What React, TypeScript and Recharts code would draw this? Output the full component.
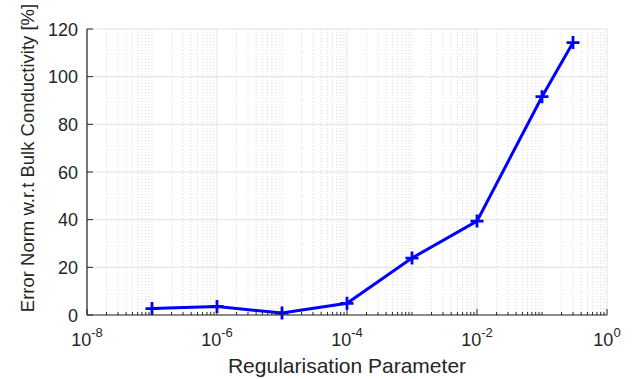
import {
  CartesianGrid,
  Line,
  LineChart,
  ReferenceLine,
  XAxis,
  YAxis,
} from "recharts";

const regParams = [1e-7, 1e-6, 1e-5, 1e-4, 1e-3, 1e-2, 1e-1, 0.3];
const errorNorm = [2.7, 3.6, 0.8, 4.9, 23.9, 39.4, 91.6, 114.3];
const xMajorTicks = [1e-8, 1e-6, 1e-4, 1e-2, 1];
const xTickExponents = ["-8", "-6", "-4", "-2", "0"];
const yTicks = [0, 20, 40, 60, 80, 100, 120];
const decades = [-8, -7, -6, -5, -4, -3, -2, -1];

const W = 634;
const H = 379;
const PLOT_TOP = 29;
const PLOT_BOTTOM = 315;
const PLOT_LEFT = 87;
const PLOT_RIGHT = 607;
const AXIS = "#262626";
const FONT = "'Liberation Sans', Arial, Helvetica, sans-serif";

const isMajor = (v: number) =>
  xMajorTicks.some((t) => Math.abs(Math.log10(t) - Math.log10(v)) < 1e-6);

const minorTicks: number[] = [];
for (const d of decades) {
  for (let m = 1; m <= 9; m++) {
    const v = m * Math.pow(10, d);
    if (!isMajor(v)) minorTicks.push(v);
  }
}
const allXTicks = [...xMajorTicks, ...minorTicks].sort((a, b) => a - b);

const data = regParams.map((x, i) => ({ x, err: errorNorm[i] }));

function BottomTick(props: any) {
  const { x, payload } = props;
  const v = payload.value;
  const major = isMajor(v);
  const len = major ? 6 : 3;
  const idx = xMajorTicks.findIndex(
    (t) => Math.abs(Math.log10(t) - Math.log10(v)) < 1e-6
  );
  return (
    <g>
      <line x1={x} x2={x} y1={PLOT_BOTTOM} y2={PLOT_BOTTOM - len} stroke={AXIS} strokeWidth={1} />
      {major && (
        <text x={x} y={345.5} textAnchor="middle" fontSize={18} fill={AXIS} fontFamily={FONT}>
          <tspan>10</tspan>
          <tspan dy={-8.5} fontSize={13}>
            {xTickExponents[idx]}
          </tspan>
        </text>
      )}
    </g>
  );
}

function TopTick(props: any) {
  const { x, payload } = props;
  const len = isMajor(payload.value) ? 6 : 3;
  return (
    <line x1={x} x2={x} y1={PLOT_TOP} y2={PLOT_TOP + len} stroke={AXIS} strokeWidth={1} />
  );
}

function LeftTick(props: any) {
  const { y, payload } = props;
  return (
    <g>
      <line x1={PLOT_LEFT} x2={PLOT_LEFT + 6} y1={y} y2={y} stroke={AXIS} strokeWidth={1} />
      <text x={78} y={y + 6.8} textAnchor="end" fontSize={18} fill={AXIS} fontFamily={FONT}>
        {payload.value}
      </text>
    </g>
  );
}

function RightTick(props: any) {
  const { y } = props;
  return (
    <line x1={PLOT_RIGHT} x2={PLOT_RIGHT - 6} y1={y} y2={y} stroke={AXIS} strokeWidth={1} />
  );
}

function PlusDot(props: any) {
  const { cx, cy, index } = props;
  if (cx == null || cy == null) return <g key={index} />;
  return (
    <path
      key={index}
      d={`M${cx - 6.5},${cy}H${cx + 6.5}M${cx},${cy - 6.5}V${cy + 6.5}`}
      stroke="#0000ff"
      strokeWidth={2.8}
      fill="none"
    />
  );
}

export default function App() {
  return (
    <div style={{ position: "absolute", left: 0, top: 0, background: "#fff" }}>
      <LineChart
        width={W}
        height={H}
        data={data}
        margin={{ top: PLOT_TOP, right: W - PLOT_RIGHT, bottom: 0, left: 0 }}
      >
        <CartesianGrid
          xAxisId="b"
          yAxisId="l"
          vertical={false}
          stroke="#e3e3e3"
          strokeWidth={1}
        />
        {minorTicks.map((v) => (
          <ReferenceLine
            key={"m" + v}
            xAxisId="b"
            yAxisId="l"
            x={v}
            stroke="#dadada"
            strokeWidth={1}
            strokeDasharray="1 2"
          />
        ))}
        {xMajorTicks.map((v) => (
          <ReferenceLine key={"M" + v} xAxisId="b" yAxisId="l" x={v} stroke="#e3e3e3" strokeWidth={1} />
        ))}
        <XAxis
          xAxisId="b"
          dataKey="x"
          type="number"
          scale="log"
          domain={[1e-8, 1]}
          allowDataOverflow
          ticks={allXTicks}
          interval={0}
          tick={<BottomTick />}
          tickLine={false}
          axisLine={{ stroke: AXIS, strokeWidth: 1.2 }}
          height={H - PLOT_BOTTOM}
          label={{
            content: () => (
              <text x={(PLOT_LEFT + PLOT_RIGHT) / 2} y={372.5} textAnchor="middle" fontSize={21} fill={AXIS} fontFamily={FONT}>
                Regularisation Parameter
              </text>
            ),
          }}
        />
        <XAxis
          xAxisId="t"
          orientation="top"
          dataKey="x"
          type="number"
          scale="log"
          domain={[1e-8, 1]}
          allowDataOverflow
          ticks={allXTicks}
          interval={0}
          tick={<TopTick />}
          tickLine={false}
          axisLine={{ stroke: AXIS, strokeWidth: 1.2 }}
          height={0}
        />
        <YAxis
          yAxisId="l"
          type="number"
          domain={[0, 120]}
          ticks={yTicks}
          interval={0}
          tick={<LeftTick />}
          tickLine={false}
          axisLine={{ stroke: AXIS, strokeWidth: 1.2 }}
          width={PLOT_LEFT}
          label={{
            content: () => (
              <text
                x={27}
                y={158}
                transform="rotate(-90 27 158)"
                textAnchor="middle"
                dominantBaseline="central"
                fontSize={18.5}
                fill={AXIS}
                fontFamily={FONT}
              >
                Error Norm w.r.t Bulk Conductivity [%]
              </text>
            ),
          }}
        />
        <YAxis
          yAxisId="r"
          orientation="right"
          type="number"
          domain={[0, 120]}
          ticks={yTicks}
          interval={0}
          tick={<RightTick />}
          tickLine={false}
          axisLine={{ stroke: AXIS, strokeWidth: 1.2 }}
          width={0}
        />
        <Line
          xAxisId="b"
          yAxisId="l"
          type="linear"
          dataKey="err"
          stroke="#0000ff"
          strokeWidth={3}
          dot={<PlusDot />}
          activeDot={false}
          isAnimationActive={false}
        />
      </LineChart>
    </div>
  );
}
